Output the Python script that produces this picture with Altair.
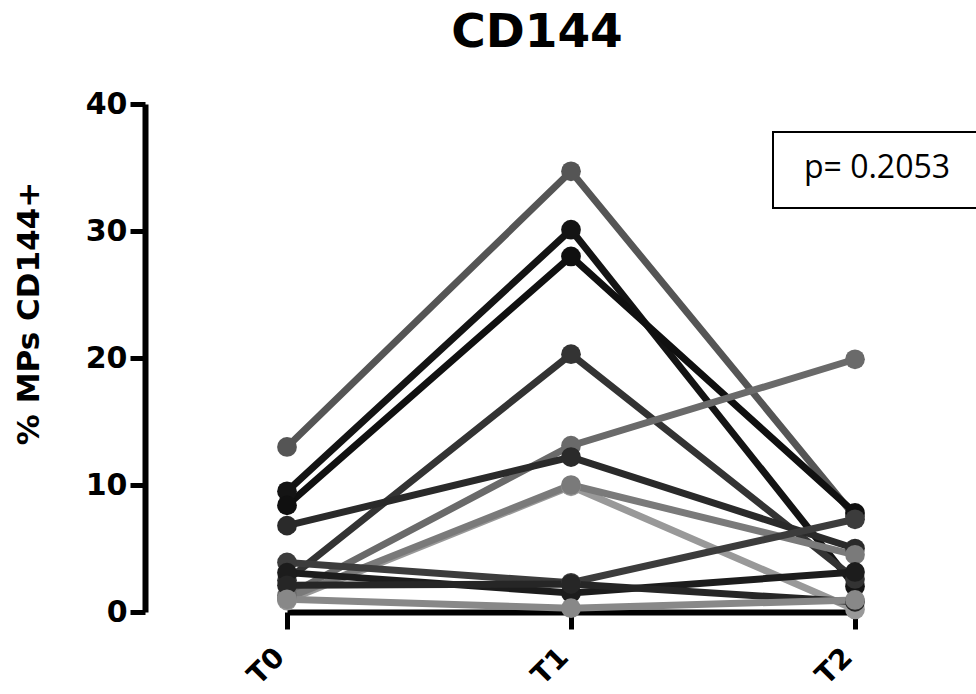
import altair as alt
import pandas as pd

# ---- data ----
times = ["T0", "T1", "T2"]
subjects = ["S1", "S2", "S3", "S4", "S5", "S6", "S7", "S8", "S9", "S10", "S11", "S12"]
t0_vals = [13.0, 9.5, 8.4, 2.5, 1.3, 6.8, 0.9, 1.1, 3.9, 3.1, 2.1, 1.0]
t1_vals = [34.7, 30.1, 28.0, 20.3, 13.1, 12.2, 9.9, 10.0, 2.3, 1.5, 2.2, 0.3]
t2_vals = [7.5, 2.0, 7.8, 2.6, 19.9, 5.0, 0.2, 4.5, 7.3, 3.15, 0.8, 0.95]
shades = ["#555555", "#141414", "#101010", "#333333", "#6a6a6a", "#2a2a2a",
          "#999999", "#7a7a7a", "#3c3c3c", "#1c1c1c", "#262626", "#888888"]
p_text = ["p= 0.2053"]
title_text = ["CD144"]
y_ticks = [0, 10, 20, 30, 40]

rows = []
for s, a, b, c in zip(subjects, t0_vals, t1_vals, t2_vals):
    for t, v in zip(times, [a, b, c]):
        rows.append({"subject": s, "time": t, "value": v})
df = pd.DataFrame(rows)

W, H = 831, 508
FONT = "DejaVu Sans"

x_enc = alt.X(
    "time:N",
    scale=alt.Scale(domain=times, range=[142, 710], padding=0),
    axis=alt.Axis(
        title=None, labelAngle=-45, labelAlign="right", labelBaseline="top",
        labelFont=FONT, labelFontWeight="bold", labelFontSize=28, labelColor="black",
        labelPadding=14, labelOffset=-17,
        domainColor="black", domainWidth=6, tickColor="black", tickWidth=5, tickSize=17,
        grid=False, zindex=0,
    ),
)
y_enc = alt.Y(
    "value:Q",
    scale=alt.Scale(domain=[0, 40], nice=False),
    axis=alt.Axis(
        values=y_ticks, title="% MPs CD144+", titleFont=FONT, titleFontWeight="bold",
        titleFontSize=31, titleColor="black", titleX=-116, titleY=209,
        titleAngle=-90, titleAlign="center", titleBaseline="middle",
        labelFont=FONT, labelFontWeight="bold", labelFontSize=30, labelColor="black",
        labelPadding=3, domainColor="black", domainWidth=6, tickColor="black",
        tickWidth=5, tickSize=15, grid=False, zindex=0,
    ),
)
color_enc = alt.Color("subject:N", scale=alt.Scale(domain=subjects, range=shades), legend=None)

base = alt.Chart(df).encode(x=x_enc, y=y_enc, color=color_enc, detail="subject:N")
lines = base.mark_line(strokeWidth=7)
points = base.mark_circle(size=390, opacity=1)

box_df = pd.DataFrame({"label": p_text})
box = alt.Chart(box_df).mark_rect(fill="white", stroke="black", strokeWidth=2).encode(
    x=alt.value(628), x2=alt.value(845), y=alt.value(28), y2=alt.value(104)
)
ptext = alt.Chart(box_df).mark_text(
    font="Open Sans", fontSize=32, color="black", align="center", baseline="middle"
).encode(text="label:N", x=alt.value(732), y=alt.value(64))

title = alt.Chart(pd.DataFrame({"t": title_text})).mark_text(
    font=FONT, fontSize=47, fontWeight="bold", color="black",
    align="center", baseline="alphabetic",
).encode(text="t:N", x=alt.value(392), y=alt.value(-57))

chart = alt.layer(lines, points, box, ptext, title).properties(
    width=W, height=H,
    background="white",
    autosize=alt.AutoSizeParams(type="none"),
    padding={"left": 145, "top": 104, "right": 0, "bottom": 82},
).configure_view(strokeWidth=0)

chart.save("out.html", embed_options={"renderer": "svg", "actions": False})
